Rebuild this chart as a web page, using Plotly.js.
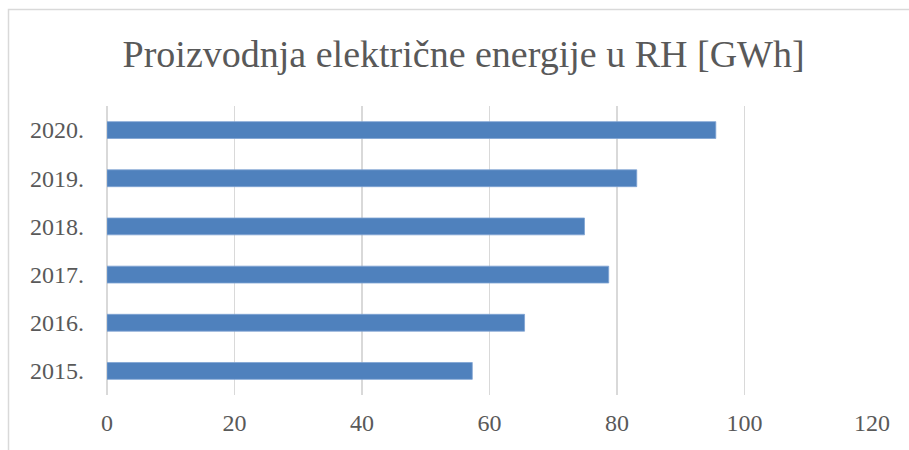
<!DOCTYPE html>
<html>
<head>
<meta charset="utf-8">
<script src="https://cdn.plot.ly/plotly-3.0.1.min.js"></script>
<style>html,body{margin:0;padding:0;background:#fff;}#chart{width:909px;height:450px;}</style>
</head>
<body>
<div id="chart"></div>
<script>
const years = ["2015.", "2016.", "2017.", "2018.", "2019.", "2020."];
const production = [57.3, 65.5, 78.7, 74.9, 83.1, 95.5];
const xTicks = [0, 20, 40, 60, 80, 100, 120];
const chartTitle = "Proizvodnja električne energije u RH [GWh]";

const L = 107, T = 106, W = 765, H = 289;
function px(x){ return (x - L) / W; }
function py(y){ return (T + H - y) / H; }

const fontFam = "Liberation Serif, DejaVu Serif, serif";

Plotly.newPlot("chart", [{
  type: "bar",
  orientation: "h",
  y: years,
  x: production,
  marker: {color: "#4f81bd", line: {color: "#7fa3d3", width: 0.8}},
  hoverinfo: "x+y"
}], {
  width: 909, height: 450,
  margin: {l: L, r: 909 - L - W, t: T, b: 450 - T - H},
  paper_bgcolor: "#ffffff",
  plot_bgcolor: "#ffffff",
  bargap: 0.65,
  showlegend: false,
  title: {
    text: chartTitle,
    font: {family: fontFam, size: 38, color: "#595959"},
    x: 0.51, xanchor: "center",
    y: 0.88, yanchor: "middle"
  },
  xaxis: {
    range: [0, 120],
    tickvals: xTicks,
    ticktext: xTicks.map(String),
    showgrid: true,
    gridcolor: "#d9d9d9",
    gridwidth: 1.5,
    zeroline: true,
    zerolinecolor: "#d9d9d9",
    zerolinewidth: 1.5,
    showline: false,
    ticks: "",
    ticklabelstandoff: 11,
    tickfont: {family: fontFam, size: 24, color: "#595959"},
    fixedrange: true
  },
  yaxis: {
    type: "category",
    categoryorder: "array",
    categoryarray: years,
    showgrid: false,
    zeroline: false,
    showline: false,
    ticks: "",
    ticklabelstandoff: 22,
    tickfont: {family: fontFam, size: 24, color: "#595959"},
    fixedrange: true
  },
  shapes: [{
    type: "rect", xref: "paper", yref: "paper",
    x0: px(8.5), x1: px(925), y0: py(470), y1: py(9.5),
    line: {color: "#d9d9d9", width: 1.5},
    fillcolor: "rgba(0,0,0,0)",
    layer: "below"
  }]
}, {displayModeBar: false, staticPlot: true});
</script>
</body>
</html>
